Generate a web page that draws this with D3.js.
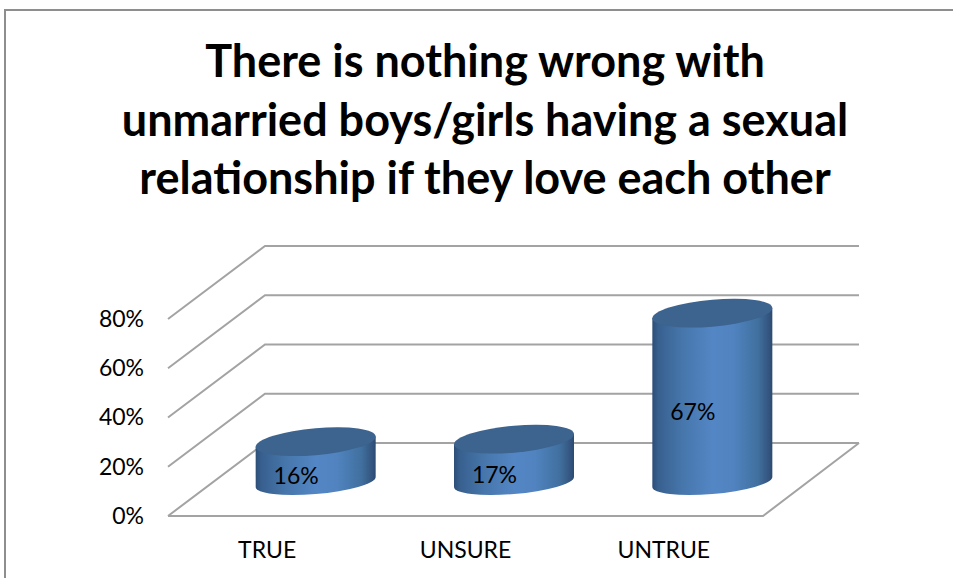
<!DOCTYPE html>
<html><head><meta charset="utf-8">
<script src="https://cdnjs.cloudflare.com/ajax/libs/d3/7.9.0/d3.min.js"></script>
<style>html,body{margin:0;padding:0;background:#fff;overflow:hidden}svg{display:block}text{font-family:Lato,"Open Sans",sans-serif;fill:#000}</style>
</head><body><svg id="c" width="953" height="578"></svg>
<script>
const categories = ["TRUE", "UNSURE", "UNTRUE"];
const values = [16, 17, 67];
const valueLabels = ["16%", "17%", "67%"];
const ticks = [0, 20, 40, 60, 80];
const titleLines = ["There is nothing wrong with", "unmarried boys/girls having a sexual", "relationship if they love each other"];

const svg = d3.select("#c");
const W = 953, H = 578;
const x0 = 168, x1 = 763, depthX = 97, depthY = 73;
const gridCol = "#a3a3a3";

const x = d3.scaleBand().domain(categories).range([x0, x1]);
const y = d3.scaleLinear().domain([0, 80]).range([516, 319]);
const barY = d3.scaleLinear().domain([0, 80]).range([482, 280.4]);
const labelY = d3.scaleLinear().domain([0, 80]).range([496, 396]);

// frame
svg.append("path").attr("d", `M5,${H}V10H${W}`).attr("fill", "none").attr("stroke", "#8e8e8e").attr("stroke-width", 2);

// title
svg.append("g").selectAll("text").data(titleLines).join("text")
  .attr("x", 485).attr("y", (d, i) => 77 + i * 58.5)
  .attr("text-anchor", "middle").attr("font-size", 45).attr("font-weight", 700)
  .text(d => d);

// walls and floor
const grid = svg.append("g").attr("fill", "none").attr("stroke", gridCol).attr("stroke-width", 2);
grid.selectAll("path").data(ticks).join("path")
  .attr("d", t => `M${x0},${y(t)}L${x0 + depthX},${y(t) - depthY}H${x1 + depthX - 1}`);
grid.append("path").attr("d", `M${x0},${y(0)}H${x1}L${x1 + depthX - 1},${y(0) - depthY}`);

// value axis
const ya = svg.append("g").attr("transform", `translate(${x0 - 21},0)`)
  .call(d3.axisLeft(y).tickValues(ticks).tickSize(0).tickPadding(3).tickFormat(d => d + "%"));
ya.select(".domain").remove();
ya.selectAll("text").attr("font-size", 23).style("font-family", "Lato,sans-serif").attr("fill", "#000");

// category axis
const xa = svg.append("g").attr("transform", "translate(0,536)")
  .call(d3.axisBottom(x).tickSize(0).tickPadding(6));
xa.select(".domain").remove();
xa.selectAll("text").attr("font-size", 23).style("font-family", "Lato,sans-serif").attr("fill", "#000");

// cylinders
const defs = svg.append("defs");
const g = defs.append("linearGradient").attr("id", "cyl");
[[0, "#2c4e78"], [0.05, "#38608f"], [0.25, "#4676ab"], [0.5, "#5386c4"], [0.68, "#5083bf"], [0.88, "#41709f"], [0.97, "#33557f"], [1, "#2d4a70"]]
  .forEach(s => g.append("stop").attr("offset", s[0]).attr("stop-color", s[1]));

const rx = 60, ryTop = 13.5, ryBottom = 12, skew = -0.085;
const bars = svg.append("g").selectAll("g").data(categories).join("g")
  .attr("transform", c => `matrix(1,${skew},0,1,${x(c) + x.bandwidth() / 2 + depthX / 2},0)`);
bars.append("path").attr("fill", "url(#cyl)")
  .attr("d", (c, i) => {
    const t = barY(values[i]), b = barY(0);
    return `M${-rx},${t}V${b}A${rx},${ryBottom} 0 0 0 ${rx},${b}V${t}Z`;
  });
bars.append("ellipse").attr("fill", "#3d638f")
  .attr("cx", 0).attr("rx", rx).attr("ry", ryTop)
  .attr("cy", (c, i) => barY(values[i]));

// value labels
svg.append("g").selectAll("text").data(categories).join("text")
  .attr("x", c => x(c) + x.bandwidth() / 2 + 29)
  .attr("y", (c, i) => labelY(values[i]) + 8)
  .attr("text-anchor", "middle").attr("font-size", 23)
  .text((c, i) => valueLabels[i]);
</script></body></html>
